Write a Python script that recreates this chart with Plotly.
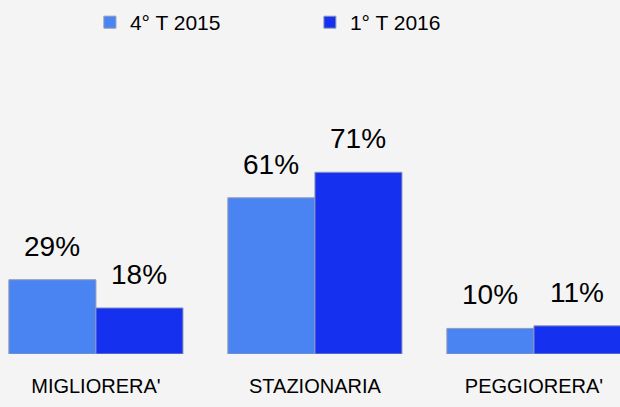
import plotly.graph_objects as go

categories = ["MIGLIORERA'", "STAZIONARIA", "PEGGIORERA'"]
series_names = ["4° T 2015", "1° T 2016"]
values_2015 = [29, 61, 10]
values_2016 = [18, 71, 11]

colors = ["#4A84F2", "#1530EE"]
FONT = "Liberation Sans, Arial, sans-serif"

fig = go.Figure()
for name, vals, col in zip(series_names, [values_2015, values_2016], colors):
    fig.add_trace(go.Bar(
        x=categories, y=vals, name=name,
        marker=dict(color=col, line=dict(color="#8E9AB8", width=1)),
    ))

annotations = []
for vals, shift in zip([values_2015, values_2016], [-43.5, 43.5]):
    for c, v in zip(categories, vals):
        annotations.append(dict(
            x=c, y=v, xref="x", yref="y", text=f"{v}%", showarrow=False,
            xanchor="center", yanchor="bottom", xshift=shift, yshift=16,
            font=dict(family=FONT, size=28, color="#000000"),
        ))

fig.update_layout(
    width=620, height=407,
    margin=dict(l=0, r=0, t=98, b=53),
    paper_bgcolor="#F4F4F4", plot_bgcolor="#F4F4F4",
    barmode="group", bargap=0.205, bargroupgap=0,
    font=dict(family=FONT, color="#000000"),
    showlegend=True,
    legend=dict(orientation="h", x=0.145, y=0.995, xanchor="left", yanchor="top",
                yref="container", entrywidth=175, entrywidthmode="pixels",
                font=dict(family=FONT, size=21, color="#000000"),
                bgcolor="rgba(0,0,0,0)", itemclick=False),
    annotations=annotations,
    xaxis=dict(range=[-0.438, 2.393], showgrid=False, zeroline=False, showline=False,
               ticks="", ticklabelstandoff=18,
               tickfont=dict(family=FONT, size=20, color="#000000")),
    yaxis=dict(range=[0, 100], visible=False),
)

fig.write_html("out.html", config={"displayModeBar": False},
               post_script="document.body.style.margin='0';document.body.style.overflow='hidden';")
